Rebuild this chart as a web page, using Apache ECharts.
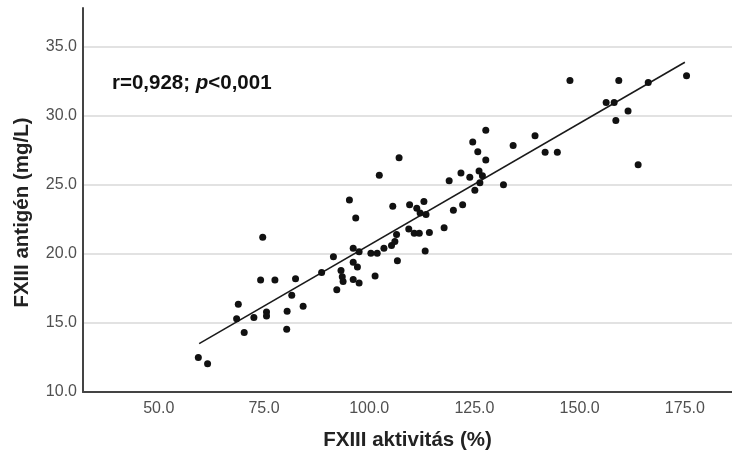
<!DOCTYPE html>
<html><head><meta charset="utf-8">
<script src="https://cdn.jsdelivr.net/npm/echarts@6/dist/echarts.min.js"></script>
<style>html,body{margin:0;padding:0;background:#fff}#c{width:732px;height:456px}</style>
</head><body><div id="c"></div>
<script>
// FXIII activity (%) per sample
const activity = [59.4,61.6,68.9,68.5,70.3,72.6,75.6,75.6,74.2,74.7,77.6,82.5,81.6,80.5,80.4,84.3,88.7,91.5,93.3,93.6,93.8,92.3,95.3,96.8,96.2,97.6,96.2,97.2,96.2,97.6,101.4,100.4,101.9,103.5,105.3,106.1,106.5,106.7,102.4,107.1,105.6,109.6,109.4,111.3,113.0,112.1,113.5,110.7,111.9,114.3,113.3,117.8,120.0,122.2,119.0,121.8,123.9,126.1,126.9,126.3,125.1,124.6,125.8,127.7,127.7,131.9,134.2,139.4,141.8,144.7,147.7,156.3,158.2,158.6,159.3,161.5,163.9,166.3,175.4];
// FXIII antigen (mg/L) per sample
const antigen = [12.5,12.05,16.35,15.3,14.3,15.4,15.8,15.5,18.1,21.2,18.1,18.2,17.0,15.85,14.55,16.2,18.65,19.8,18.8,18.35,18.0,17.4,23.9,22.6,20.4,20.15,19.4,19.05,18.15,17.9,18.4,20.05,20.05,20.4,20.6,20.9,21.4,19.5,25.7,26.95,23.45,23.56,21.8,23.3,23.8,22.95,22.85,21.5,21.5,21.55,20.2,21.9,23.15,23.55,25.3,25.85,25.55,26.0,25.65,25.15,24.6,28.1,27.4,28.95,26.8,25.0,27.85,28.55,27.35,27.35,32.55,30.95,30.95,29.65,32.55,30.35,26.45,32.4,32.9];
// regression line end points
const fitX = [59.6, 175.0];
const fitY = [13.5, 33.87];
const xTicks = [50, 75, 100, 125, 150, 175];
const yTicks = [10, 15, 20, 25, 30, 35];

const points = activity.map((v, i) => [v, antigen[i]]);
const fitLine = fitX.map((v, i) => [v, fitY[i]]);
const FONT = '"Liberation Sans", Arial, Helvetica, sans-serif';

const chart = echarts.init(document.getElementById('c'), null, {renderer: 'canvas'});
chart.setOption({
  animation: false,
  backgroundColor: '#ffffff',
  grid: {left: 83, right: 0, top: 8, bottom: 63.3, containLabel: false},
  xAxis: {
    type: 'value', min: 32.0, max: 186.2,
    name: 'FXIII aktivitás (%)', nameLocation: 'middle', nameGap: 38,
    nameTextStyle: {fontFamily: FONT, fontWeight: 'bold', fontSize: 20.5, color: '#222'},
    axisLine: {show: true, onZero: false, lineStyle: {color: '#444', width: 2}},
    axisTick: {show: false},
    splitLine: {show: false},
    axisLabel: {customValues: xTicks, margin: 9, fontFamily: FONT, fontSize: 16, color: '#505050',
      formatter: v => Number(v).toFixed(1)}
  },
  yAxis: {
    type: 'value', min: 10, max: 37.8, interval: 5,
    name: 'FXIII antigén (mg/L)', nameLocation: 'middle', nameGap: 50,
    nameTextStyle: {fontFamily: FONT, fontWeight: 'bold', fontSize: 20.5, color: '#222', padding: [0, 25, 0, 0]},
    axisLine: {show: true, onZero: false, lineStyle: {color: '#444', width: 2}},
    axisTick: {show: false},
    splitLine: {show: true, showMinLine: false, showMaxLine: false, lineStyle: {color: '#d9d9d9', width: 1.5}},
    axisLabel: {customValues: yTicks, margin: 6, fontFamily: FONT, fontSize: 16, color: '#505050',
      formatter: v => Number(v).toFixed(1)}
  },
  series: [
    {type: 'scatter', data: points, symbol: 'circle', symbolSize: 7,
     itemStyle: {color: '#111', opacity: 1}, z: 3},
    {type: 'line', data: fitLine, symbol: 'none', lineStyle: {color: '#1a1a1a', width: 1.6}, z: 2}
  ],
  graphic: [{
    type: 'text', left: 112, top: 73,
    style: {
      text: '{b|r=0,928; }{i|p}{b|<0,001}',
      rich: {
        b: {fontFamily: FONT, fontWeight: 'bold', fontSize: 20.5, fill: '#111'},
        i: {fontFamily: FONT, fontWeight: 'bold', fontStyle: 'italic', fontSize: 20.5, fill: '#111'}
      }
    }
  }]
});
</script></body></html>
